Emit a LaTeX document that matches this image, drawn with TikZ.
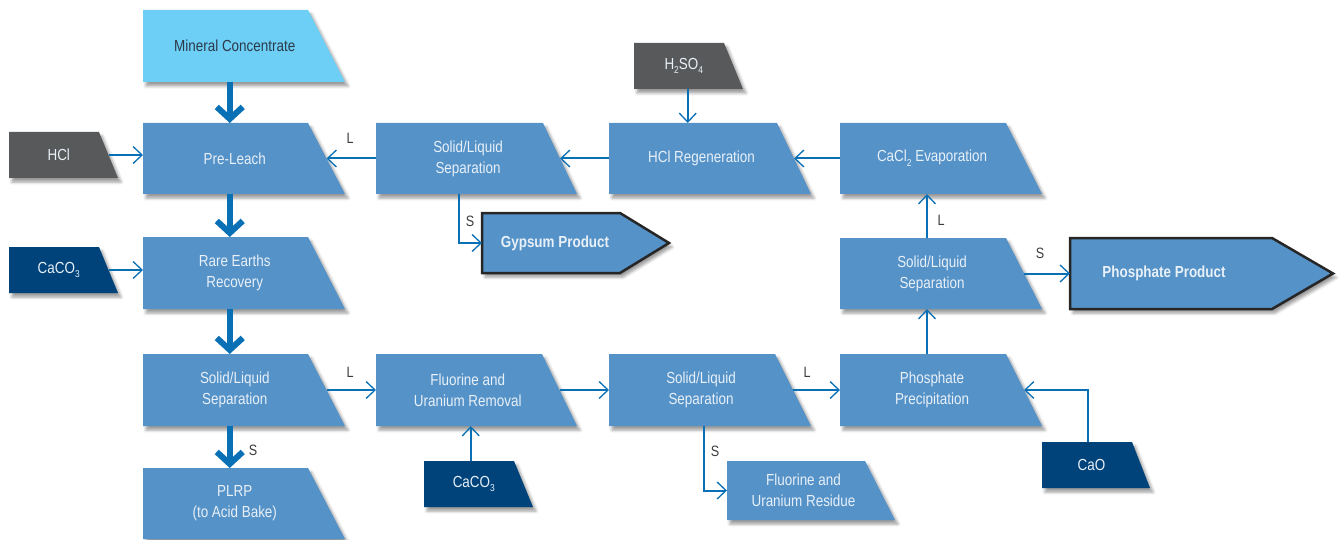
\documentclass[tikz,border=0pt]{standalone}
\usepackage{fontspec}
\setmainfont{Liberation Sans}[FakeStretch=0.84]
\usetikzlibrary{arrows.meta,shadows.blur,calc}

\definecolor{procblue}{HTML}{5592C8}
\definecolor{feedcyan}{HTML}{6DCFF6}
\definecolor{reagentgray}{HTML}{58595B}
\definecolor{reagentnavy}{HTML}{00437A}
\definecolor{flowblue}{HTML}{0A70B6}
\definecolor{lighttext}{HTML}{E8F0F8}
\definecolor{darktext}{HTML}{2B3A4A}
\definecolor{labelgray}{HTML}{3C3C3C}

% small, lowered chemical subscript
\newcommand{\chemsub}[1]{\raisebox{-0.55ex}{\fontsize{10}{10}\selectfont #1}}

\tikzset{
  sh/.style={blur shadow={shadow xshift=3pt,shadow yshift=-4pt,shadow blur radius=3pt,shadow opacity=40}},
  proc/.style={fill=procblue, sh},
  feed/.style={fill=feedcyan, sh},
  acid/.style={fill=reagentgray, sh},
  base/.style={fill=reagentnavy, sh},
  product/.style={fill=procblue, draw=black!85, line width=2.5pt, line join=miter, sh},
  lt/.style={text=lighttext, font=\fontsize{16}{21}\selectfont, align=center,
             inner sep=0pt, outer sep=0pt},
  dt/.style={lt, text=darktext},
  prodtext/.style={lt, font=\bfseries\fontsize{16}{21}\selectfont},
  flow/.style={draw=flowblue, line width=2pt,
               -{Straight Barb[length=9pt,width=17pt,line width=1.3pt]}},
  mainflow/.style={draw=flowblue, line width=6pt,
               -{Straight Barb[length=12pt,width=26pt]}},
  tag/.style={text=labelgray, font=\fontsize{15}{18}\selectfont, inner sep=0pt}
}

% Trapezoid process box with a slanted right side.
% #1 name, #2 fill look, #3 text look, #4 left, #5 top, #6 top-right x,
% #7 bottom-right x, #8 bottom, #9 text
\newcommand{\tbox}[9]{%
  \path[#2] (#4,#5) -- (#6,#5) -- (#7,#8) -- (#4,#8) -- cycle;
  \pgfmathsetmacro\bxr{(#6+#7)/2}%
  \pgfmathsetmacro\bxc{(#4+\bxr)/2}%
  \pgfmathsetmacro\byc{(#5+#8)/2}%
  \pgfmathsetmacro\bw{\bxr-#4}%
  \pgfmathsetmacro\bh{#8-#5}%
  \node[#3, minimum width=\bw pt, minimum height=\bh pt] (#1) at (\bxc,\byc) {#9};
}

% Arrow-shaped product box, with its label set apart.
% #1 name, #2 left, #3 top, #4 point start x, #5 tip x, #6 bottom,
% #7 label centre x, #8 text
\newcommand{\pbox}[8]{%
  \pgfmathsetmacro\byc{(#3+#6)/2}%
  \pgfmathsetmacro\bxc{(#2+#4)/2}%
  \pgfmathsetmacro\bw{#4-#2}%
  \pgfmathsetmacro\bh{#6-#3}%
  \path[product] (#2,#3) -- (#4,#3) -- (#5,\byc) -- (#4,#6) -- (#2,#6) -- cycle;
  \node[inner sep=0pt, outer sep=0pt, minimum width=\bw pt, minimum height=\bh pt] (#1) at (\bxc,\byc) {};
  \node[prodtext] (#1-label) at (#7,\byc) {#8};
}

\begin{document}
\begin{tikzpicture}[x=1pt,y=-1pt]
\useasboundingbox (0,0) rectangle (1343,540);

% left column
\tbox{mc}{feed}{dt}{143}{10}{308}{345}{82}{Mineral Concentrate}
\tbox{pl}{proc}{lt}{143}{123}{308}{345}{194}{Pre-Leach}
\tbox{re}{proc}{lt}{143}{237}{308}{345}{309}{Rare Earths\\Recovery}
\tbox{sl1}{proc}{lt}{143}{354}{308}{345}{426}{Solid/Liquid\\Separation}
\tbox{plrp}{proc}{lt}{143}{468}{308}{345}{539}{PLRP\\(to Acid Bake)}

% reagents
\tbox{hcl}{acid}{lt}{9}{132}{99}{118}{178}{HCl}
\tbox{ca1}{base}{lt}{9}{247}{99}{118}{293}{CaCO\chemsub{3}}
\tbox{h2so4}{acid}{lt}{634}{43}{724}{743}{89}{H\chemsub{2}SO\chemsub{4}}
\tbox{ca2}{base}{lt}{424}{461}{514}{533}{507}{CaCO\chemsub{3}}
\tbox{cao}{base}{lt}{1042}{442}{1132}{1150}{488}{CaO}

% upper row
\tbox{sl2}{proc}{lt}{376}{123}{543}{577}{194}{Solid/Liquid\\Separation}
\tbox{hclr}{proc}{lt}{609}{123}{777}{811}{194}{HCl Regeneration}
\tbox{cacl}{proc}{lt}{840}{123}{1006}{1042}{194}{CaCl\chemsub{2} Evaporation}
\tbox{sl3}{proc}{lt}{840}{238}{1006}{1042}{309}{Solid/Liquid\\Separation}

% lower row
\tbox{fur}{proc}{lt}{376}{354}{542}{577}{426}{Fluorine and\\Uranium Removal}
\tbox{sl4}{proc}{lt}{609}{354}{775}{811}{426}{Solid/Liquid\\Separation}
\tbox{ppt}{proc}{lt}{840}{354}{1006}{1042}{426}{Phosphate\\Precipitation}
\tbox{res}{proc}{lt}{727}{461}{865}{895}{520}{Fluorine and\\Uranium Residue}

% products
\pbox{gyp}{482}{213}{620}{669}{273}{555}{Gypsum Product}
\pbox{php}{1070}{238}{1272}{1333}{309}{1164}{Phosphate Product}

% main stream
\draw[mainflow] ([xshift=-5pt]mc.south) -- ([xshift=-5pt]pl.north);
\draw[mainflow] ([xshift=-5pt]pl.south) -- ([xshift=-5pt]re.north);
\draw[mainflow] ([xshift=-5pt]re.south) -- ([xshift=-5pt]sl1.north);
\draw[mainflow] ([xshift=-5pt]sl1.south) -- ([xshift=-5pt]plrp.north);

% reagent feeds
\draw[flow] (hcl.east) -- (hcl.east -| pl.west);
\draw[flow] (ca1.east) -- (ca1.east -| re.west);
\draw[flow] ([xshift=4pt]h2so4.south) -- ([xshift=4pt]h2so4.south |- hclr.north);
\draw[flow] ([xshift=-3pt]ca2.north) -- ([xshift=-3pt]ca2.north |- fur.south);
\draw[flow] ([xshift=-4pt]cao.north) |- (ppt.east);

% liquor and solids streams
\draw[flow] (sl1.east) -- (fur.west);
\draw[flow] (fur.east) -- (sl4.west);
\draw[flow] (sl4.east) -- (ppt.west);
\draw[flow] ([xshift=3pt]sl4.south) |- (res.west);
\draw[flow] ([xshift=-5pt]ppt.north) -- ([xshift=-5pt]sl3.south);
\draw[flow] ([xshift=-5pt]sl3.north) -- ([xshift=-5pt]cacl.south);
\draw[flow] (sl3.east) -- (sl3.east -| php.west);
\draw[flow] (cacl.west) -- (hclr.east);
\draw[flow] (hclr.west) -- (sl2.east);
\draw[flow] (sl2.west) -- (pl.east);
\draw[flow] ([xshift=-9pt]sl2.south) |- (gyp.west);

% stream tags
\node[tag] (tL1) at (350,138) {L};
\node[tag] (tS1) at (470,221) {S};
\node[tag] (tL2) at (941,220) {L};
\node[tag] (tS2) at (1040,253) {S};
\node[tag] (tL3) at (350,372) {L};
\node[tag] (tL4) at (807,372) {L};
\node[tag] (tS3) at (715,451) {S};
\node[tag] (tS4) at (253,450) {S};
\end{tikzpicture}
\end{document}
